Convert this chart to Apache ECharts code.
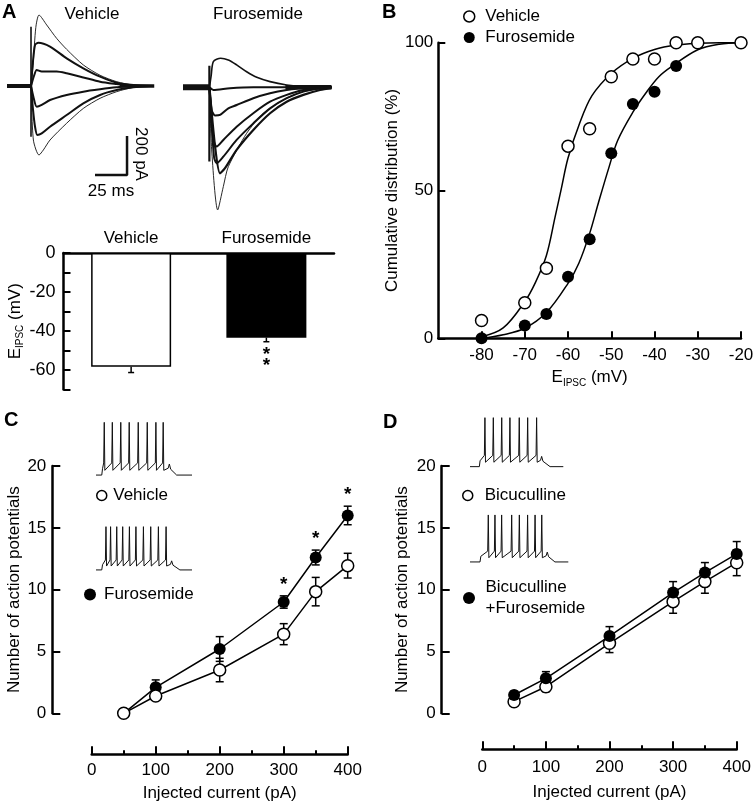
<!DOCTYPE html>
<html><head><meta charset="utf-8">
<script src="https://cdn.jsdelivr.net/npm/echarts@6/dist/echarts.min.js"></script>
<style>html,body{margin:0;padding:0;background:#fff}#c{width:753px;height:803px}</style>
</head><body><div id="c"></div>
<script>
const FONT = "'Liberation Sans', Arial, Helvetica, sans-serif";

// ---------- Panel A: IPSC traces (time ms, current pA) ----------
const vehBaselinePre = [[0,0],[18.75,0]];
const vehTail = [[88,0],[115,0]];
const vehArtifact = [[18.75,304],[18.75,-260]];
const vehTraceThin1 = [[18.8,0],[20.5,120],[22.5,300],[25,364],[31,313],[38.8,244],[46.6,188],[59.6,108],[72.7,55],[85.7,22],[98.7,5],[114.3,0]];
const vehTrace2 = [[18.8,0],[20.2,120],[21.9,210],[24.5,222],[33.6,202],[46.6,142],[59.6,91],[72.7,48],[85.7,17],[98.7,5],[114.3,0]];
const vehTrace3 = [[18.8,0],[21,50],[23.2,82],[27.1,74],[38.8,74],[46.6,65],[59.6,44],[72.7,22],[85.7,10],[98.7,0],[114.3,0]];
const vehTrace4 = [[18.8,0],[20.6,-55],[23.2,-106],[27.1,-97],[33.6,-72],[46.6,-46],[59.6,-29],[72.7,-17],[85.7,-7],[98.7,0],[114.3,0]];
const vehTrace5 = [[18.8,0],[20.3,-120],[21.9,-209],[23.7,-251],[27.1,-243],[33.6,-209],[46.6,-149],[59.6,-89],[72.7,-46],[85.7,-21],[98.7,-7],[111.7,0]];
const vehTraceThin6 = [[18.8,0],[20.6,-277],[25,-354],[28.4,-328],[33.6,-277],[46.6,-191],[59.6,-115],[72.7,-63],[85.7,-29],[98.7,-7],[111.7,0]];

const furBaselinePre = [[0,0],[20.6,0]];
const furTail = [[80,0],[116,0]];
const furArtifact = [[20.6,111],[20.6,-381]];
const furTrace1 = [[20.7,0],[22,60],[23.7,132],[29.4,149],[35.4,140],[41.9,115],[49.7,80],[57.6,51],[68,29],[81,12],[94,3],[116,0]];
const furTrace2 = [[20.7,0],[23.7,-14],[36.7,-5],[55,0],[116,0]];
const furTrace3 = [[20.7,0],[22.4,-116],[25,-145],[28.9,-142],[35.4,-108],[41.9,-91],[54.9,-56],[68,-31],[81,-14],[94,-3],[116,0]];
const furTrace4 = [[20.7,0],[23.7,-270],[26.3,-304],[31.5,-270],[41.9,-202],[54.9,-133],[68,-74],[81,-39],[94,-14],[107,-3],[116,0]];
const furTrace5 = [[20.7,0],[24.2,-356],[26.3,-390],[31.5,-356],[41.9,-270],[54.9,-185],[68,-108],[81,-56],[94,-22],[107,-5],[116,0]];
const furTrace6 = [[20.7,0],[25,-300],[28.9,-441],[32.8,-415],[41.9,-321],[54.9,-219],[68,-133],[81,-74],[94,-39],[107,-14],[116,-3]];
const furTraceThin7 = [[20.7,0],[22.4,-321],[27.1,-629],[31.5,-509],[35.4,-407],[49.7,-236],[62.8,-133],[81,-56],[94,-22],[116,0]];

const scaleBar = {t: 93.75, pA: -456, lenMs: 25, lenPA: 200};
const scaleLabels = ['200 pA', '25 ms'];
const traceTitles = ['Vehicle', 'Furosemide'];

// ---------- Panel A: bar chart ----------
const aCats = ['Vehicle', 'Furosemide'];
const aMean = [-58.3, -43.4];
const aErr = [3.0, 2.1];
const aSig = ['', '**'];

// ---------- Panel B ----------
const bVehX = [-80,-70,-65,-60,-55,-50,-45,-40,-35,-30,-20];
const bVeh  = [6,12,23.7,65,70.9,88.5,94.5,94.5,100,100,100];
const bFurX = [-80,-70,-65,-60,-55,-50,-45,-40,-35];
const bFur  = [0,4.3,8.2,20.8,33.5,62.6,79.3,83.4,92.1];
const bVehFitX = [-80,-75,-70,-67.5,-65,-63,-61.5,-60,-57.5,-54.5,-50,-45,-40,-35,-30,-25,-20];
const bVehFit  = [0.5,3.5,12.4,19,28,41,51,61,72,82,89.6,94.7,97.7,99.2,99.8,100,100];
const bFurFitX = [-80,-75,-70,-65,-60,-57.5,-55,-53,-50.5,-48.5,-45,-42,-39,-36,-30,-25,-20];
const bFurFit  = [0,1.2,3.4,8.7,18.6,25.4,35.5,45.7,58,67,76.5,83,88.5,92,97.6,99.5,100];
const bXTicks = [-80,-70,-60,-50,-40,-30,-20];
const bLegend = ['Vehicle', 'Furosemide'];

// ---------- Panel C ----------
const cX = [50,100,200,300,350,400];
const cVeh = [0,1.4,3.5,6.4,9.84,11.94];
const cVehErr = [0,0.3,0.95,0.85,1.15,1.0];
const cFur = [0,2.1,5.2,9.0,12.6,16.0];
const cFurErr = [0,0.6,1.0,0.5,0.6,0.75];
const cSig = ['','','','*','*','*'];

// ---------- Panel D ----------
const dX = [50,100,200,300,350,400];
const dBic = [0.94,2.15,5.66,9.03,10.65,12.18];
const dBicErr = [0.2,0.4,0.75,0.94,0.94,1.05];
const dBF = [1.48,2.83,6.25,9.76,11.38,12.89];
const dBFErr = [0.3,0.54,0.76,0.89,0.81,1.0];
const dLegend = ['Bicuculline', 'Bicuculline+Furosemide'];

// ---------- Insets: spike trains (ms) ----------
const insetCveh = {spikes:[43,85,129,173,220,267,312,350], on:30, bump:382, off:420};
const insetCfur = {spikes:[52,76,108,139,174,208,247,285,325,365], on:30, bump:394, off:437};
const insetDbic = {spikes:[80,125,170,214,264,309,357], on:50, bump:384, off:429};
const insetDbf  = {spikes:[93,127,161,212,251,293,331,365], on:51, bump:393, off:432};
const apLevels = {rest:-70, peak:30, ahp:-61, pre:-47, bump:-49, end:500};

function spikeTrain(ins){
  const L = apLevels;
  const pts = [[0,L.rest],[ins.on,L.rest],[ins.on+4,L.ahp+3]];
  ins.spikes.forEach(t => { pts.push([t-3,L.pre],[t,L.peak],[t+3,L.ahp]); });
  pts.push([ins.bump-6,L.ahp+4],[ins.bump,L.bump],[ins.bump+7,L.ahp+2],[ins.off,L.rest],[L.end,L.rest]);
  return pts;
}

const lineW = 2.5;
function hiddenX(g,min,max){return {gridIndex:g,type:'value',min,max,show:false};}
function hiddenY(g,min,max){return {gridIndex:g,type:'value',min,max,show:false};}

function traceSeries(g, data, w){
  return {type:'line', xAxisIndex:g, yAxisIndex:g, data, showSymbol:false, symbol:'none', silent:true,
    smooth:0.25, lineStyle:{color:'#111', width:w}, animation:false, clip:false};
}
function polySeries(g, data, w){
  return {type:'line', xAxisIndex:g, yAxisIndex:g, data, showSymbol:false, symbol:'none', silent:true,
    lineStyle:{color:'#111', width:w}, animation:false, clip:false};
}

function errSeries(g, xs, ys, es, cap, downOnly, z){
  return {type:'custom', xAxisIndex:g, yAxisIndex:g, z:z, silent:true, animation:false, clip:false,
    data: xs.map((x,i)=>[x, ys[i], es[i]]),
    renderItem(params, api){
      const x=api.value(0), y=api.value(1), e=api.value(2);
      if(!e) return null;
      const hi = api.coord([x, downOnly ? y : y+e]);
      const lo = api.coord([x, y-e]);
      const st = {stroke:'#000', lineWidth:1.5};
      const ch = [{type:'line', shape:{x1:hi[0],y1:hi[1],x2:lo[0],y2:lo[1]}, style:st}];
      if(!downOnly) ch.push({type:'line', shape:{x1:hi[0]-cap,y1:hi[1],x2:hi[0]+cap,y2:hi[1]}, style:st});
      ch.push({type:'line', shape:{x1:lo[0]-cap,y1:lo[1],x2:lo[0]+cap,y2:lo[1]}, style:st});
      return {type:'group', children:ch};
    }};
}
function sigSeries(g, xs, ys, es, sig, dir, first, step){
  return {type:'custom', xAxisIndex:g, yAxisIndex:g, z:5, silent:true, animation:false, clip:false,
    data: xs.map((x,i)=>[x, ys[i], es[i], i]),
    renderItem(params, api){
      const i = api.value(3); const s = sig[i]; if(!s) return null;
      const x=api.value(0), y=api.value(1), e=api.value(2);
      const p = api.coord([x, dir>0 ? y+e : y-e]);
      const ch = [];
      for(let k=0;k<s.length;k++){
        ch.push({type:'text', x:p[0], y:p[1] + (dir>0 ? -(first+k*step) : (first+k*step)),
          style:{text:s[k], align:'center', verticalAlign:'middle', fontSize:19, fontWeight:'bold', fontFamily:FONT, fill:'#000'}});
      }
      return {type:'group', children:ch};
    }};
}

const subRich = {
  m:{fontSize:17, fontFamily:FONT, color:'#000', lineHeight:17, verticalAlign:'top'},
  s:{fontSize:10, fontFamily:FONT, color:'#000', lineHeight:19, verticalAlign:'bottom'}
};
const eName = '{m|E}{s|IPSC}{m| (mV)}';

function valueAxisStyle(extra){
  return Object.assign({
    type:'value', splitLine:{show:false},
    axisLine:{show:true, onZero:false, lineStyle:{color:'#000', width:lineW}},
    axisTick:{show:true, inside:true, length:7, lineStyle:{color:'#000', width:2}},
    axisLabel:{color:'#000', fontSize:17, fontFamily:FONT},
    nameTextStyle:{color:'#000', fontSize:17, fontFamily:FONT}
  }, extra);
}

const grids = [
  {left:7, top:8, width:149.8, height:214.5},      // 0 A vehicle traces
  {left:183, top:9.3, width:149.8, height:214.5},  // 1 A furosemide traces
  {left:63.5, top:253, width:270.5, height:136.5}, // 2 A bars
  {left:438.3, top:42.7, width:302.7, height:295.6}, // 3 B
  {left:91.7, top:466, width:256, height:247.3},   // 4 C
  {left:96, top:419.7, width:96, height:58},       // 5 C inset veh
  {left:96, top:524.5, width:96, height:47.6},     // 6 C inset fur
  {left:482.3, top:466, width:254.4, height:247.3},// 7 D
  {left:470, top:415.2, width:93.3, height:53.9},  // 8 D inset bic
  {left:470, top:512.6, width:98.3, height:51.7}   // 9 D inset bic+fur
].map(g => Object.assign({outerBoundsMode:'none', containLabel:false}, g));

const xAxes = [
  hiddenX(0,0,117), hiddenX(1,0,117),
  {gridIndex:2, type:'category', data:aCats, position:'top',
    axisLine:{show:true, onZero:false, lineStyle:{color:'#000', width:lineW}}, axisTick:{show:false},
    axisLabel:{color:'#000', fontSize:17, fontFamily:FONT, margin:6}},
  valueAxisStyle({gridIndex:3, min:-90, max:-20, interval:10,
    axisTick:{show:true, inside:true, length:7, lineStyle:{color:'#000', width:2}, customValues:bXTicks},
    axisLabel:{color:'#000', fontSize:17, fontFamily:FONT, margin:9, customValues:bXTicks},
    name:eName, nameLocation:'middle', nameGap:31, nameTextStyle:{rich:subRich}}),
  valueAxisStyle({gridIndex:4, min:0, max:400, interval:100, offset:41,
    axisTick:{show:true, inside:true, length:8, lineStyle:{color:'#000', width:2}},
    minorTick:{show:true, splitNumber:2, length:4, lineStyle:{color:'#000', width:2}},
    axisLabel:{color:'#000', fontSize:17, fontFamily:FONT, margin:8},
    name:'Injected current (pA)', nameLocation:'middle', nameGap:31}),
  hiddenX(5,0,500), hiddenX(6,0,500),
  valueAxisStyle({gridIndex:7, min:0, max:400, interval:100, offset:36,
    axisTick:{show:true, inside:true, length:8, lineStyle:{color:'#000', width:2}},
    minorTick:{show:true, splitNumber:2, length:4, lineStyle:{color:'#000', width:2}},
    axisLabel:{color:'#000', fontSize:17, fontFamily:FONT, margin:10},
    name:'Injected current (pA)', nameLocation:'middle', nameGap:35}),
  hiddenX(8,0,500), hiddenX(9,0,500)
];
const yAxes = [
  hiddenY(0,-700,400), hiddenY(1,-700,400),
  valueAxisStyle({gridIndex:2, min:-70, max:0, interval:10,
    axisLabel:{color:'#000', fontSize:18, fontFamily:FONT, margin:8, formatter:v => (v % 20 === 0 ? String(v) : '')},
    name:eName, nameLocation:'middle', nameGap:32, nameRotate:90, nameTextStyle:{rich:subRich}}),
  valueAxisStyle({gridIndex:3, min:0, max:100, interval:50,
    axisLabel:{color:'#000', fontSize:17, fontFamily:FONT, margin:5},
    name:'Cumulative distribution (%)', nameLocation:'middle', nameGap:32}),
  valueAxisStyle({gridIndex:4, min:0, max:20, interval:5, offset:39.4,
    axisTick:{show:true, inside:true, length:8, lineStyle:{color:'#000', width:2}},
    axisLabel:{color:'#000', fontSize:17, fontFamily:FONT, margin:6},
    name:'Number of action potentials', nameLocation:'middle', nameGap:29}),
  hiddenY(5,-75,35), hiddenY(6,-75,35),
  valueAxisStyle({gridIndex:7, min:0, max:20, interval:5, offset:40.6,
    axisTick:{show:true, inside:true, length:8, lineStyle:{color:'#000', width:2}},
    axisLabel:{color:'#000', fontSize:17, fontFamily:FONT, margin:6},
    name:'Number of action potentials', nameLocation:'middle', nameGap:31}),
  hiddenY(8,-75,35), hiddenY(9,-75,35)
];

const openItem = {color:'#fff', borderColor:'#000', borderWidth:1.5, opacity:1};
const fillItem = {color:'#000', borderColor:'#000', borderWidth:0, opacity:1};

const series = [
  // A traces vehicle
  polySeries(0, vehBaselinePre, 4), polySeries(0, vehTail, 3.5), polySeries(0, vehArtifact, 1.6),
  traceSeries(0, vehTraceThin1, 0.9), traceSeries(0, vehTrace2, 2), traceSeries(0, vehTrace3, 2),
  traceSeries(0, vehTrace4, 2), traceSeries(0, vehTrace5, 2), traceSeries(0, vehTraceThin6, 0.9),
  polySeries(0, [[scaleBar.t-scaleBar.lenMs, scaleBar.pA],[scaleBar.t, scaleBar.pA],[scaleBar.t, scaleBar.pA+scaleBar.lenPA]], 2.5),
  // A traces furosemide
  polySeries(1, furBaselinePre, 6), polySeries(1, furTail, 4.5), polySeries(1, furArtifact, 2.2),
  traceSeries(1, furTrace1, 1.6), traceSeries(1, furTrace2, 2), traceSeries(1, furTrace3, 2),
  traceSeries(1, furTrace4, 2), traceSeries(1, furTrace5, 2), traceSeries(1, furTrace6, 2.2),
  traceSeries(1, furTraceThin7, 0.9),
  // A bars
  {type:'bar', xAxisIndex:2, yAxisIndex:2, barWidth:80, animation:false, silent:true,
    data: aMean.map((v,i)=>({value:v, itemStyle: i===0 ? openItem : fillItem}))},
  errSeries(2, [0,1], aMean, aErr, 3, true, 3),
  sigSeries(2, [0,1], aMean, aErr, aSig, -1, 13, 11.5),
  // B
  {type:'line', name:'vehFit', xAxisIndex:3, yAxisIndex:3, data:bVehFitX.map((x,i)=>[x,bVehFit[i]]), showSymbol:false, symbol:'none',
    smooth:0.35, lineStyle:{color:'#000', width:1.5}, z:2, silent:true, animation:false, clip:false},
  {type:'line', name:'furFit', xAxisIndex:3, yAxisIndex:3, data:bFurFitX.map((x,i)=>[x,bFurFit[i]]), showSymbol:false, symbol:'none',
    smooth:0.35, lineStyle:{color:'#000', width:1.5}, z:2, silent:true, animation:false, clip:false},
  {type:'scatter', name:bLegend[1], xAxisIndex:3, yAxisIndex:3, data:bFurX.map((x,i)=>[x,bFur[i]]), symbolSize:12,
    itemStyle:fillItem, z:4, clip:false, animation:false, silent:true},
  {type:'scatter', name:bLegend[0], xAxisIndex:3, yAxisIndex:3, data:bVehX.map((x,i)=>[x,bVeh[i]]), symbolSize:12,
    itemStyle:openItem, z:5, clip:false, animation:false, silent:true},
  // C
  errSeries(4, cX, cFur, cFurErr, 4, false, 2),
  errSeries(4, cX, cVeh, cVehErr, 4, false, 2),
  {type:'line', name:'Furosemide', xAxisIndex:4, yAxisIndex:4, data:cX.map((x,i)=>[x,cFur[i]]), symbol:'circle', symbolSize:12,
    itemStyle:fillItem, lineStyle:{color:'#000', width:1.5}, z:3, clip:false, animation:false, silent:true},
  {type:'line', name:'Vehicle', xAxisIndex:4, yAxisIndex:4, data:cX.map((x,i)=>[x,cVeh[i]]), symbol:'circle', symbolSize:12,
    itemStyle:openItem, lineStyle:{color:'#000', width:1.5}, z:4, clip:false, animation:false, silent:true},
  sigSeries(4, cX, cFur, cFurErr, cSig, 1, 11, 0),
  polySeries(5, spikeTrain(insetCveh), 1), polySeries(6, spikeTrain(insetCfur), 1),
  // D
  errSeries(7, dX, dBic, dBicErr, 4, false, 2),
  errSeries(7, dX, dBF, dBFErr, 4, false, 2),
  {type:'line', name:dLegend[0], xAxisIndex:7, yAxisIndex:7, data:dX.map((x,i)=>[x,dBic[i]]), symbol:'circle', symbolSize:12,
    itemStyle:openItem, lineStyle:{color:'#000', width:1.5}, z:3, clip:false, animation:false, silent:true},
  {type:'line', name:dLegend[1], xAxisIndex:7, yAxisIndex:7, data:dX.map((x,i)=>[x,dBF[i]]), symbol:'circle', symbolSize:12,
    itemStyle:fillItem, lineStyle:{color:'#000', width:1.5}, z:4, clip:false, animation:false, silent:true},
  polySeries(8, spikeTrain(insetDbic), 1), polySeries(9, spikeTrain(insetDbf), 1)
];

const legText = {fontSize:17, color:'#000', fontFamily:FONT};
function leg(left, top, w, h, item, extra){
  return Object.assign({left, top, padding:0, itemWidth:w, itemHeight:h, itemGap:4, orient:'vertical',
    selectedMode:false, textStyle:legText, data:item}, extra||{});
}
const legends = [
  leg(463, 8, 22, 11, [{name:bLegend[0], icon:'circle', itemStyle:openItem}, {name:bLegend[1], icon:'circle', itemStyle:fillItem}]),
  leg(96, 487, 13, 10, [{name:'Vehicle', icon:'circle', itemStyle:openItem}]),
  leg(84, 586, 18, 12, [{name:'Furosemide', icon:'circle', itemStyle:fillItem}]),
  leg(462, 487, 24, 10, [{name:dLegend[0], icon:'circle', itemStyle:openItem}]),
  leg(463, 577, 23, 12, [{name:dLegend[1], icon:'circle', itemStyle:fillItem}],
      {formatter: n => n.replace('+', '\n+'), textStyle:Object.assign({lineHeight:21}, legText)})
];

function txt(x, y, s, opts){
  return Object.assign({type:'text', x, y, silent:true,
    style:Object.assign({text:s, fill:'#000', fontSize:17, fontFamily:FONT, align:'center', verticalAlign:'middle'}, (opts&&opts.style)||{})},
    opts && opts.rotation !== undefined ? {rotation:opts.rotation} : {});
}
const graphics = [
  txt(2, 2, 'A', {style:{fontSize:20, fontWeight:'bold', align:'left', verticalAlign:'top'}}),
  txt(382, 2, 'B', {style:{fontSize:20, fontWeight:'bold', align:'left', verticalAlign:'top'}}),
  txt(4, 410, 'C', {style:{fontSize:20, fontWeight:'bold', align:'left', verticalAlign:'top'}}),
  txt(383, 412, 'D', {style:{fontSize:20, fontWeight:'bold', align:'left', verticalAlign:'top'}}),
  txt(92, 14, traceTitles[0]),
  txt(258, 14, traceTitles[1]),
  txt(141, 154, scaleLabels[0], {rotation:-Math.PI/2}),
  txt(111, 191, scaleLabels[1])
];

const chart = echarts.init(document.getElementById('c'), null, {renderer:'canvas'});
chart.setOption({
  animation:false,
  backgroundColor:'#fff',
  textStyle:{fontFamily:FONT},
  grid:grids, xAxis:xAxes, yAxis:yAxes, series, legend:legends, graphic:graphics
});
</script></body></html>
